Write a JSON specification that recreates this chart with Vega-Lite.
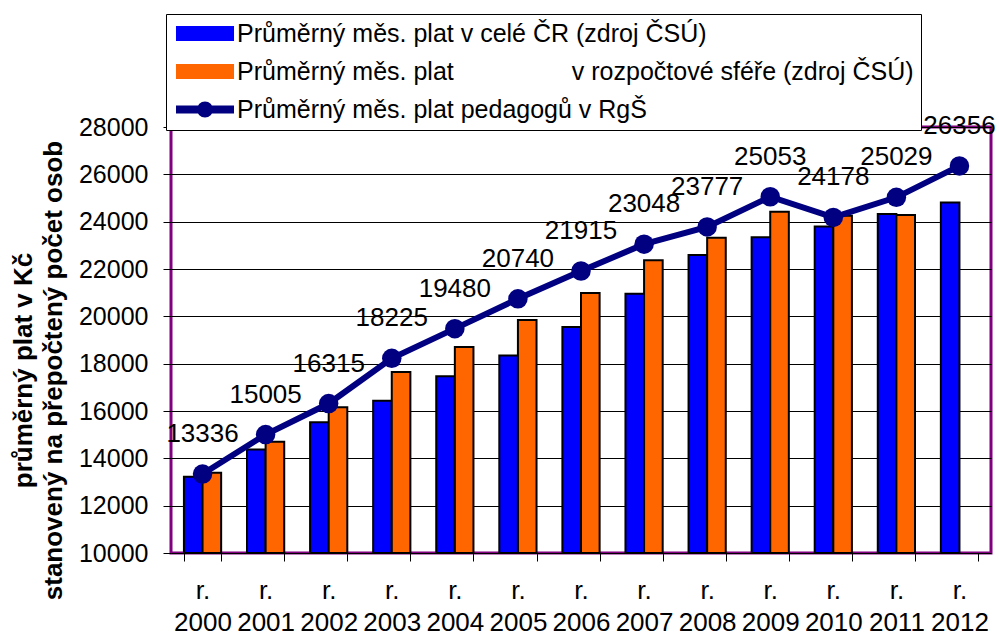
{
  "$schema": "https://vega.github.io/schema/vega-lite/v6.json",
  "width": 820,
  "height": 426,
  "autosize": {"type": "none"},
  "padding": {"left": 171, "top": 127, "right": 8, "bottom": 82},
  "background": "white",
  "config": {
    "font": "Liberation Sans",
    "view": {"stroke": "#800080", "strokeWidth": 3},
    "axis": {"labelColor": "black", "titleColor": "black", "tickColor": "black", "domain": false}
  },
  "data": {
    "values": [
      {"year": "2000", "series": "Průměrný měs. plat v celé ČR (zdroj ČSÚ)", "value": 13219},
      {"year": "2001", "series": "Průměrný měs. plat v celé ČR (zdroj ČSÚ)", "value": 14378},
      {"year": "2002", "series": "Průměrný měs. plat v celé ČR (zdroj ČSÚ)", "value": 15524},
      {"year": "2003", "series": "Průměrný měs. plat v celé ČR (zdroj ČSÚ)", "value": 16430},
      {"year": "2004", "series": "Průměrný měs. plat v celé ČR (zdroj ČSÚ)", "value": 17466},
      {"year": "2005", "series": "Průměrný měs. plat v celé ČR (zdroj ČSÚ)", "value": 18344},
      {"year": "2006", "series": "Průměrný měs. plat v celé ČR (zdroj ČSÚ)", "value": 19546},
      {"year": "2007", "series": "Průměrný měs. plat v celé ČR (zdroj ČSÚ)", "value": 20957},
      {"year": "2008", "series": "Průměrný měs. plat v celé ČR (zdroj ČSÚ)", "value": 22592},
      {"year": "2009", "series": "Průměrný měs. plat v celé ČR (zdroj ČSÚ)", "value": 23344},
      {"year": "2010", "series": "Průměrný měs. plat v celé ČR (zdroj ČSÚ)", "value": 23797},
      {"year": "2011", "series": "Průměrný měs. plat v celé ČR (zdroj ČSÚ)", "value": 24319},
      {"year": "2012", "series": "Průměrný měs. plat v celé ČR (zdroj ČSÚ)", "value": 24814},
      {"year": "2000", "series": "Průměrný měs. plat v rozpočtové sféře (zdroj ČSÚ)", "value": 13393},
      {"year": "2001", "series": "Průměrný měs. plat v rozpočtové sféře (zdroj ČSÚ)", "value": 14704},
      {"year": "2002", "series": "Průměrný měs. plat v rozpočtové sféře (zdroj ČSÚ)", "value": 16155},
      {"year": "2003", "series": "Průměrný měs. plat v rozpočtové sféře (zdroj ČSÚ)", "value": 17647},
      {"year": "2004", "series": "Průměrný měs. plat v rozpočtové sféře (zdroj ČSÚ)", "value": 18703},
      {"year": "2005", "series": "Průměrný měs. plat v rozpočtové sféře (zdroj ČSÚ)", "value": 19844},
      {"year": "2006", "series": "Průměrný měs. plat v rozpočtové sféře (zdroj ČSÚ)", "value": 20985},
      {"year": "2007", "series": "Průměrný měs. plat v rozpočtové sféře (zdroj ČSÚ)", "value": 22366},
      {"year": "2008", "series": "Průměrný měs. plat v rozpočtové sféře (zdroj ČSÚ)", "value": 23323},
      {"year": "2009", "series": "Průměrný měs. plat v rozpočtové sféře (zdroj ČSÚ)", "value": 24421},
      {"year": "2010", "series": "Průměrný měs. plat v rozpočtové sféře (zdroj ČSÚ)", "value": 24252},
      {"year": "2011", "series": "Průměrný měs. plat v rozpočtové sféře (zdroj ČSÚ)", "value": 24280},
      {"year": "2000", "series": "Průměrný měs. plat pedagogů v RgŠ", "value": 13336},
      {"year": "2001", "series": "Průměrný měs. plat pedagogů v RgŠ", "value": 15005},
      {"year": "2002", "series": "Průměrný měs. plat pedagogů v RgŠ", "value": 16315},
      {"year": "2003", "series": "Průměrný měs. plat pedagogů v RgŠ", "value": 18225},
      {"year": "2004", "series": "Průměrný měs. plat pedagogů v RgŠ", "value": 19480},
      {"year": "2005", "series": "Průměrný měs. plat pedagogů v RgŠ", "value": 20740},
      {"year": "2006", "series": "Průměrný měs. plat pedagogů v RgŠ", "value": 21915},
      {"year": "2007", "series": "Průměrný měs. plat pedagogů v RgŠ", "value": 23048},
      {"year": "2008", "series": "Průměrný měs. plat pedagogů v RgŠ", "value": 23777},
      {"year": "2009", "series": "Průměrný měs. plat pedagogů v RgŠ", "value": 25053},
      {"year": "2010", "series": "Průměrný měs. plat pedagogů v RgŠ", "value": 24178},
      {"year": "2011", "series": "Průměrný měs. plat pedagogů v RgŠ", "value": 25029},
      {"year": "2012", "series": "Průměrný měs. plat pedagogů v RgŠ", "value": 26356}
    ]
  },
  "encoding": {
    "x": {
      "field": "year",
      "type": "ordinal",
      "scale": {"paddingInner": 0.41, "paddingOuter": 0.205},
      "axis": {
        "title": null,
        "labelAngle": 0,
        "labelExpr": "datum.label ? ['r.', datum.label] : ''",
        "labelFontSize": 26,
        "labelLineHeight": 32,
        "labelPadding": 16,
        "tickSize": 8,
        "tickBand": "extent",
        "grid": false
      }
    },
    "y": {
      "field": "value",
      "type": "quantitative",
      "scale": {"domain": [10000, 28000], "nice": false, "zero": false},
      "axis": {
        "values": [10000, 12000, 14000, 16000, 18000, 20000, 22000, 24000, 26000, 28000],
        "format": "d",
        "labelFontSize": 25,
        "labelPadding": 15,
        "tickSize": 8,
        "grid": true,
        "gridColor": "black",
        "gridWidth": 1,
        "gridOpacity": 1,
        "title": ["průměrný plat v Kč", "stanovený na přepočtený počet osob"],
        "titleFontSize": 26,
        "titleFontWeight": "bold",
        "titleAngle": 270,
        "titleAlign": "center",
        "titleBaseline": "middle",
        "titleLineHeight": 30,
        "titleX": -148,
        "titleY": 243
      }
    },
    "color": {
      "field": "series",
      "type": "nominal",
      "scale": {
        "domain": ["Průměrný měs. plat v celé ČR (zdroj ČSÚ)", "Průměrný měs. plat v rozpočtové sféře (zdroj ČSÚ)", "Průměrný měs. plat pedagogů v RgŠ"],
        "range": ["#0000FF", "#FF6600", "#000080"]
      },
      "legend": {
        "title": null,
        "orient": "none",
        "legendX": -5,
        "legendY": -113,
        "direction": "vertical",
        "fillColor": "white",
        "strokeColor": "black",
        "padding": 7,
        "labelFontSize": 25,
        "labelColor": "black",
        "labelOffset": 39,
        "rowPadding": 12,
        "symbolSize": 169,
        "labelLimit": 800,
        "labelExpr": "replace(datum.label, 'plat v rozpočtové', 'plat\u00a0\u00a0\u00a0\u00a0\u00a0\u00a0\u00a0\u00a0\u00a0\u00a0\u00a0\u00a0\u00a0\u00a0\u00a0\u00a0\u00a0v rozpočtové')",
        "encode": {
          "symbols": {
            "update": {
              "shape": {"signal": "indexof(datum.value, 'pedagog') >= 0 ? 'M-1.31,-0.46L7.31,-0.46L7.31,0.46L-1.31,0.46Z M4.08,0 A1.08,1.08 0 1,1 1.92,0 A1.08,1.08 0 1,1 4.08,0 Z' : 'M-1.31,-1L7.31,-1L7.31,1L-1.31,1Z'"},
              "fill": {"signal": "scale('color', datum.value)"},
              "fillOpacity": {"value": 1},
              "opacity": {"value": 1},
              "stroke": {"signal": "indexof(datum.value, 'pedagog') >= 0 ? 'transparent' : 'black'"},
              "strokeWidth": {"value": 2},
              "size": {"value": 169}
            }
          }
        }
      }
    }
  },
  "layer": [
    {
      "transform": [{"filter": "indexof(datum.series, 'pedagog') < 0"}],
      "mark": {"type": "bar", "stroke": "black", "strokeWidth": 2, "opacity": 1},
      "encoding": {
        "xOffset": {"field": "series", "type": "nominal", "sort": ["Průměrný měs. plat v celé ČR (zdroj ČSÚ)", "Průměrný měs. plat v rozpočtové sféře (zdroj ČSÚ)"]},
        "y2": {"datum": 10000}
      }
    },
    {
      "transform": [{"filter": "indexof(datum.series, 'pedagog') >= 0"}],
      "mark": {"type": "line", "strokeWidth": 6},
      "encoding": {}
    },
    {
      "transform": [{"filter": "indexof(datum.series, 'pedagog') >= 0"}],
      "mark": {"type": "point", "filled": true, "size": 380, "opacity": 1, "color": "#000080"},
      "encoding": {"color": {"value": "#000080"}}
    },
    {
      "transform": [{"filter": "indexof(datum.series, 'pedagog') >= 0"}],
      "mark": {"type": "text", "dy": -40, "fontSize": 26, "baseline": "middle", "color": "black"},
      "encoding": {"text": {"field": "value", "type": "quantitative", "format": "d"}, "color": {"value": "black"}}
    }
  ]
}
